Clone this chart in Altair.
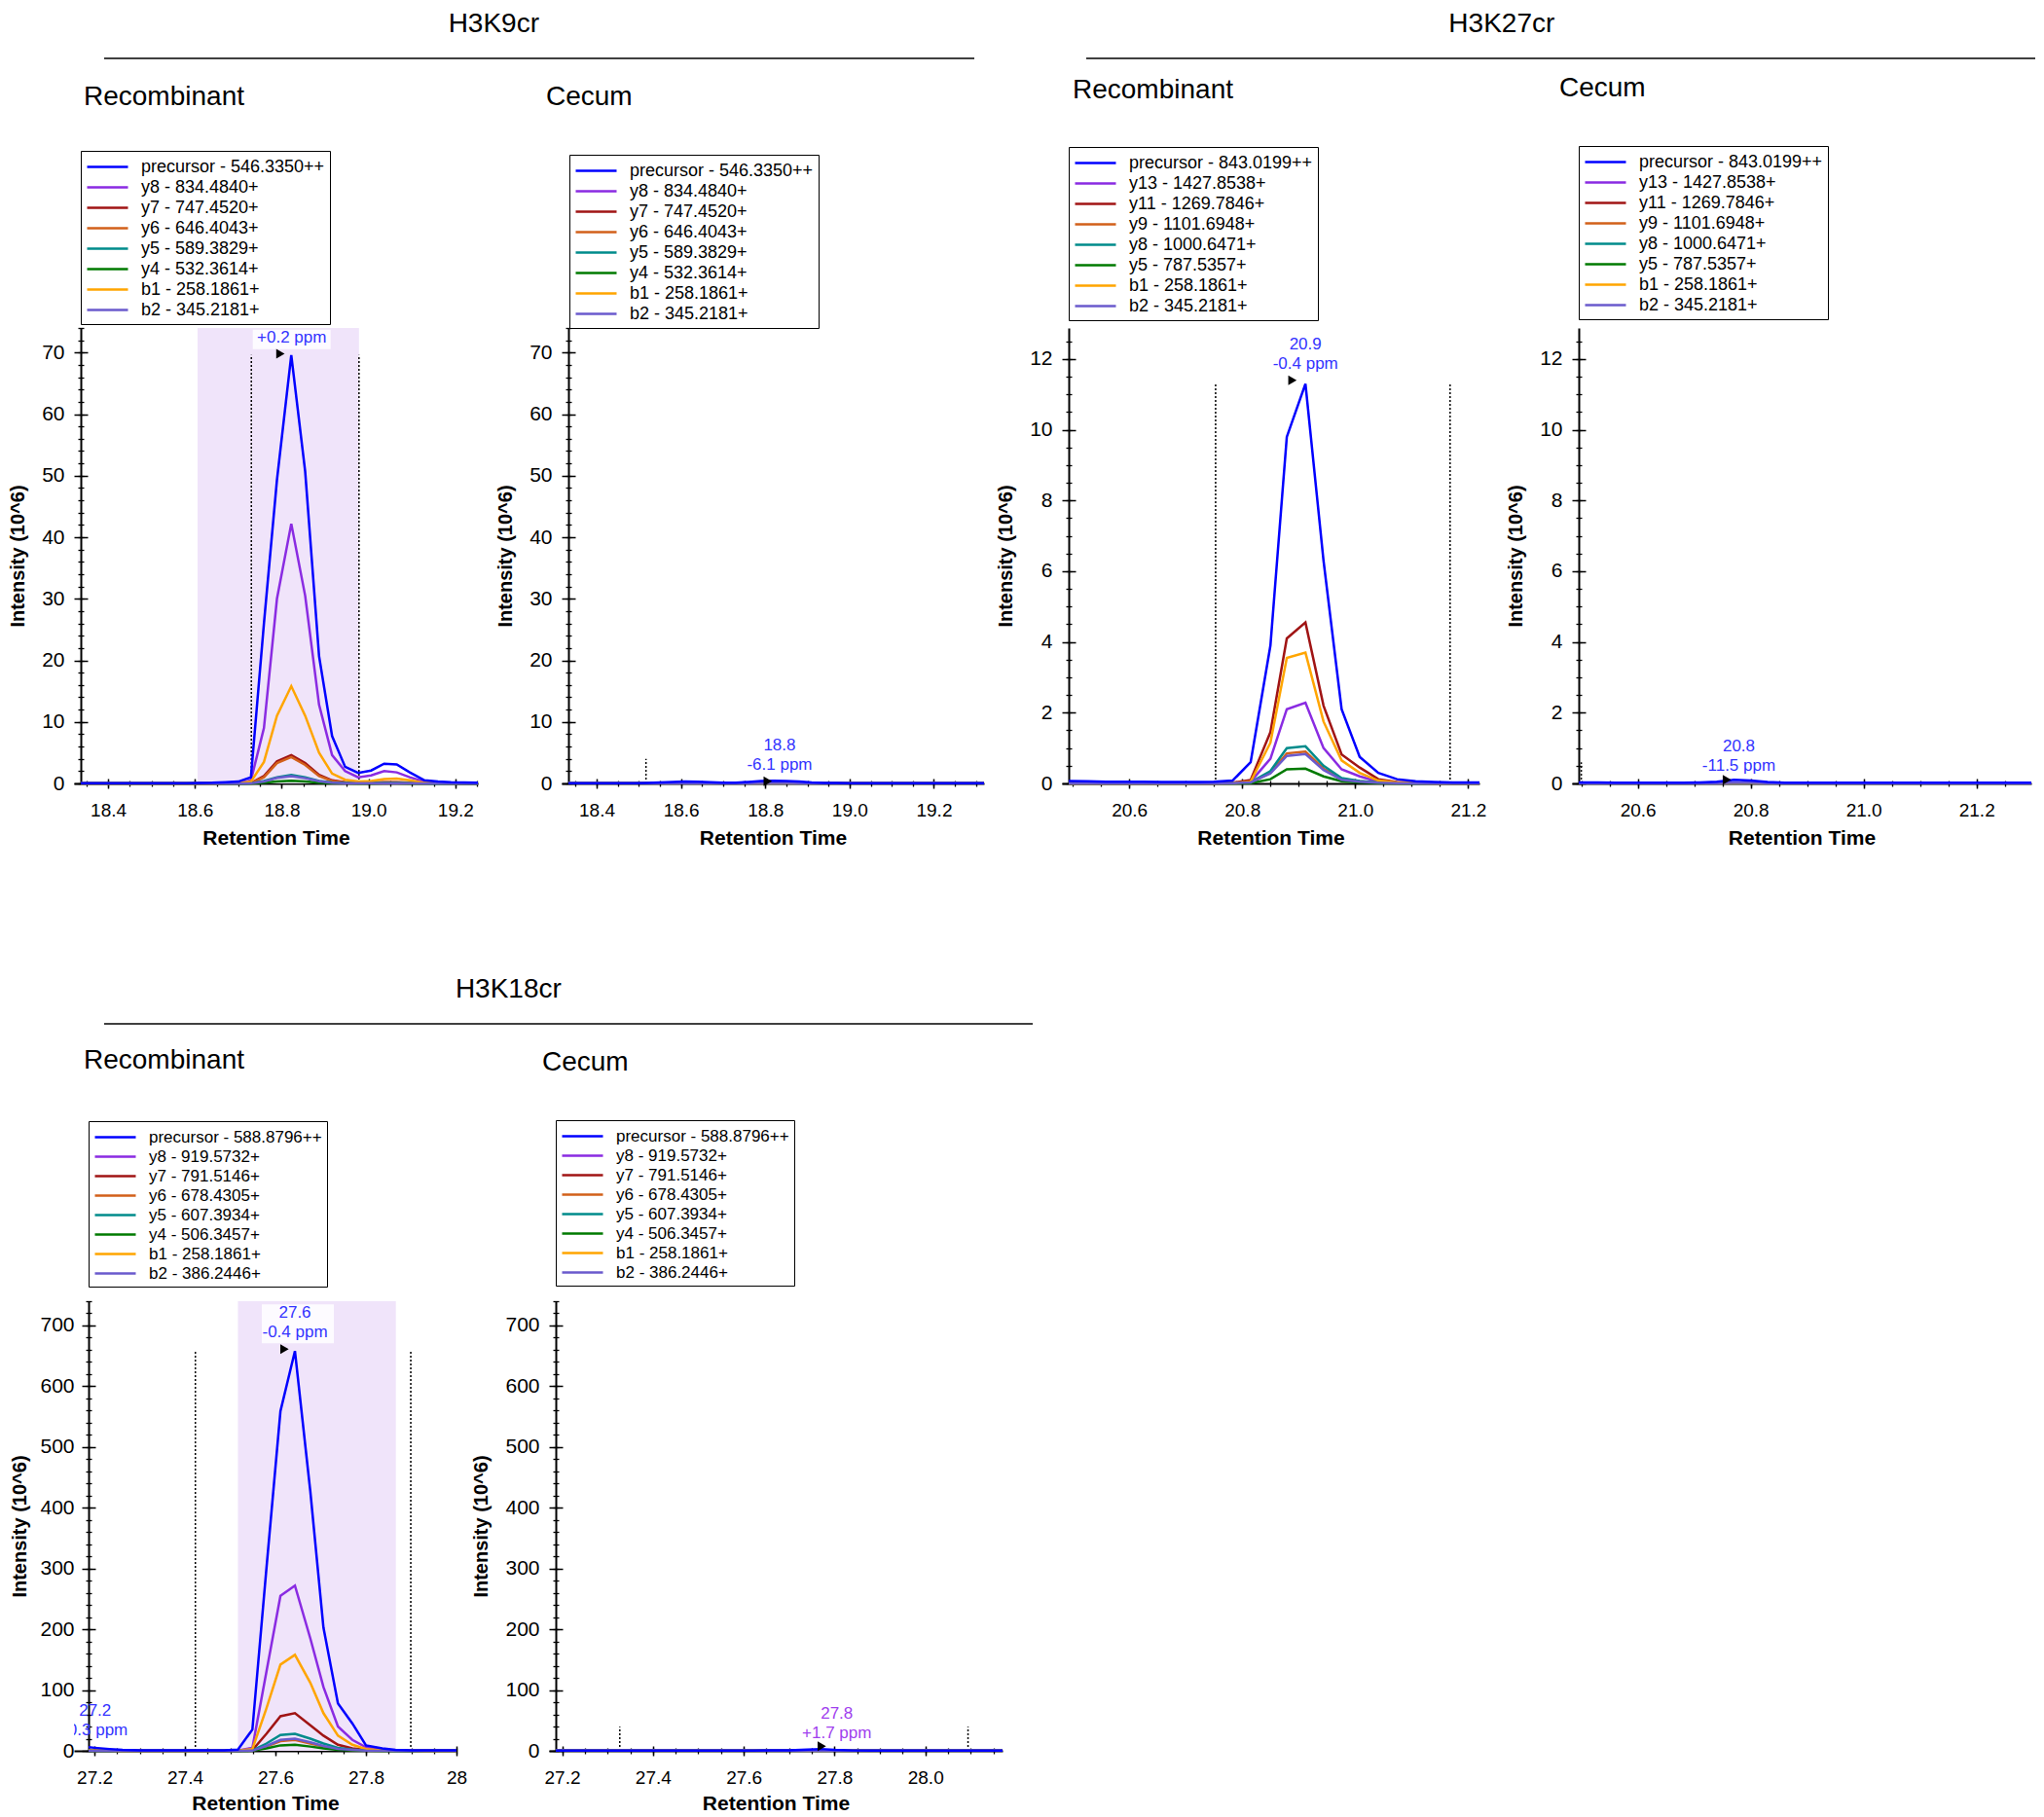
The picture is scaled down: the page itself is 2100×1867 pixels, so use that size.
import altair as alt
import pandas as pd

FONT = "Liberation Sans"
BLACK = "#000000"
ION_COLORS = ["#0000FF", "#8A2BE2", "#A01414", "#D2601A", "#008B8B", "#007A00", "#FFA500", "#6A5ACD"]
SHADE = "#F0E4FA"
LABEL_BLUE = "#3333FF"
LABEL_PURPLE = "#A040EE"

# ---------------- legends (ion names) ----------------
k9_ions = ["precursor - 546.3350++", "y8 - 834.4840+", "y7 - 747.4520+", "y6 - 646.4043+",
           "y5 - 589.3829+", "y4 - 532.3614+", "b1 - 258.1861+", "b2 - 345.2181+"]
k27_ions = ["precursor - 843.0199++", "y13 - 1427.8538+", "y11 - 1269.7846+", "y9 - 1101.6948+",
            "y8 - 1000.6471+", "y5 - 787.5357+", "b1 - 258.1861+", "b2 - 345.2181+"]
k18_ions = ["precursor - 588.8796++", "y8 - 919.5732+", "y7 - 791.5146+", "y6 - 678.4305+",
            "y5 - 607.3934+", "y4 - 506.3457+", "b1 - 258.1861+", "b2 - 386.2446+"]

# ---------------- H3K9cr Recombinant ----------------
k9_rec_rt = [18.337, 18.37, 18.40, 18.43, 18.46, 18.49, 18.52, 18.55, 18.58, 18.61, 18.64, 18.67, 18.70,
             18.729, 18.759, 18.789, 18.822, 18.854, 18.886, 18.916, 18.946, 18.976, 19.006, 19.036,
             19.065, 19.095, 19.129, 19.16, 19.19, 19.22, 19.252]
k9_rec_prec = [0.05, 0.05, 0.05, 0.05, 0.05, 0.05, 0.05, 0.05, 0.05, 0.06, 0.1, 0.2, 0.3,
               1.0, 26.0, 49.3, 69.6, 50.7, 20.7, 7.7, 2.7, 1.7, 2.1, 3.2, 3.1, 1.8, 0.5, 0.3, 0.2, 0.15, 0.1]
k9_rec_y8 = [0, 0, 0, 0, 0, 0, 0, 0, 0, 0, 0, 0.02, 0.05,
             0.5, 9.0, 30.0, 42.2, 30.5, 12.8, 4.6, 2.0, 1.0, 1.3, 2.0, 1.8, 1.0, 0.3, 0.1, 0.05, 0.03, 0.02]
k9_rec_y7 = [0, 0, 0, 0, 0, 0, 0, 0, 0, 0, 0, 0, 0.01,
             0.05, 1.2, 3.6, 4.6, 3.3, 1.4, 0.5, 0.2, 0.1, 0.15, 0.2, 0.2, 0.1, 0.05, 0.02, 0.01, 0.01, 0.01]
k9_rec_y6 = [0, 0, 0, 0, 0, 0, 0, 0, 0, 0, 0, 0, 0.01,
             0.05, 1.0, 3.3, 4.3, 3.0, 1.2, 0.4, 0.15, 0.1, 0.1, 0.15, 0.15, 0.1, 0.05, 0.02, 0.01, 0.01, 0.01]
k9_rec_y5 = [0, 0, 0, 0, 0, 0, 0, 0, 0, 0, 0, 0, 0,
             0.02, 0.4, 1.0, 1.4, 1.0, 0.4, 0.15, 0.06, 0.04, 0.05, 0.06, 0.06, 0.04, 0.02, 0.01, 0.01, 0.01, 0.01]
k9_rec_y4 = [0, 0, 0, 0, 0, 0, 0, 0, 0, 0, 0, 0, 0,
             0.01, 0.1, 0.3, 0.45, 0.3, 0.1, 0.04, 0.02, 0.01, 0.01, 0.02, 0.02, 0.01, 0.01, 0, 0, 0, 0]
k9_rec_b1 = [0, 0, 0, 0, 0, 0, 0, 0, 0, 0, 0, 0.02, 0.04,
             0.3, 3.5, 11.0, 15.8, 11.0, 5.0, 1.6, 0.6, 0.3, 0.4, 0.7, 0.8, 0.5, 0.1, 0.05, 0.03, 0.02, 0.02]
k9_rec_b2 = [0, 0, 0, 0, 0, 0, 0, 0, 0, 0, 0, 0, 0,
             0.02, 0.3, 0.9, 1.2, 0.85, 0.35, 0.1, 0.05, 0.03, 0.04, 0.05, 0.05, 0.03, 0.01, 0.01, 0, 0, 0]

# ---------------- H3K9cr Cecum ----------------
k9_cec_rt = [18.333, 18.37, 18.40, 18.43, 18.46, 18.49, 18.52, 18.55, 18.58, 18.61, 18.64, 18.67, 18.70,
             18.73, 18.76, 18.79, 18.82, 18.85, 18.88, 18.91, 18.94, 18.97, 19.00, 19.03, 19.06, 19.09,
             19.12, 19.15, 19.18, 19.21, 19.24, 19.27, 19.30, 19.319]
k9_cec_prec = [0.05, 0.05, 0.05, 0.05, 0.05, 0.05, 0.08, 0.15, 0.25, 0.3, 0.28, 0.2, 0.1, 0.12, 0.25,
               0.4, 0.45, 0.4, 0.3, 0.15, 0.08, 0.06, 0.05, 0.05, 0.05, 0.05, 0.05, 0.05, 0.05, 0.05,
               0.05, 0.05, 0.05, 0.05]
k9_cec_frag = [0.02, 0.02, 0.02, 0.02, 0.02, 0.02, 0.03, 0.04, 0.05, 0.05, 0.05, 0.04, 0.03, 0.03, 0.05,
               0.06, 0.07, 0.06, 0.05, 0.04, 0.03, 0.02, 0.02, 0.02, 0.02, 0.02, 0.02, 0.02, 0.02, 0.02,
               0.02, 0.02, 0.02, 0.02]

# ---------------- H3K27cr Recombinant ----------------
k27_rec_rt = [20.493, 20.526, 20.559, 20.592, 20.625, 20.658, 20.691, 20.724, 20.75, 20.783, 20.815,
              20.850, 20.879, 20.912, 20.944, 20.976, 21.008, 21.041, 21.074, 21.107, 21.14, 21.173,
              21.206, 21.22]
k27_rec_prec = [0.07, 0.06, 0.05, 0.05, 0.05, 0.04, 0.04, 0.04, 0.05, 0.08, 0.6, 3.9, 9.8, 11.3, 6.3,
                2.1, 0.75, 0.3, 0.12, 0.06, 0.04, 0.03, 0.03, 0.03]
k27_rec_y13 = [0, 0, 0, 0, 0, 0, 0, 0, 0, 0.01, 0.05, 0.7, 2.1, 2.28, 1.0, 0.4, 0.2, 0.05, 0.02, 0.01,
               0, 0, 0, 0]
k27_rec_y11 = [0, 0, 0, 0, 0, 0, 0, 0, 0, 0.02, 0.1, 1.45, 4.1, 4.55, 2.2, 0.82, 0.45, 0.12, 0.04, 0.02,
               0, 0, 0, 0]
k27_rec_y9 = [0, 0, 0, 0, 0, 0, 0, 0, 0, 0.01, 0.03, 0.3, 0.85, 0.9, 0.42, 0.13, 0.06, 0.02, 0.01, 0,
              0, 0, 0, 0]
k27_rec_y8 = [0, 0, 0, 0, 0, 0, 0, 0, 0, 0.01, 0.03, 0.35, 1.0, 1.05, 0.5, 0.15, 0.07, 0.03, 0.01, 0,
              0, 0, 0, 0]
k27_rec_y5 = [0, 0, 0, 0, 0, 0, 0, 0, 0, 0, 0.01, 0.12, 0.4, 0.42, 0.2, 0.06, 0.03, 0.01, 0, 0,
              0, 0, 0, 0]
k27_rec_b1 = [0, 0, 0, 0, 0, 0, 0, 0, 0, 0.01, 0.05, 1.15, 3.55, 3.7, 1.75, 0.65, 0.3, 0.08, 0.03, 0.01,
              0, 0, 0, 0]
k27_rec_b2 = [0, 0, 0, 0, 0, 0, 0, 0, 0, 0.01, 0.03, 0.28, 0.78, 0.83, 0.38, 0.1, 0.05, 0.02, 0.01, 0,
              0, 0, 0, 0]

# ---------------- H3K27cr Cecum ----------------
k27_cec_rt = [20.4955, 20.53, 20.56, 20.59, 20.62, 20.65, 20.68, 20.71, 20.74, 20.77, 20.80, 20.83,
              20.86, 20.89, 20.92, 20.95, 20.98, 21.01, 21.04, 21.07, 21.10, 21.13, 21.16, 21.19,
              21.22, 21.25, 21.297]
k27_cec_prec = [0.03, 0.03, 0.02, 0.02, 0.02, 0.02, 0.02, 0.03, 0.05, 0.1, 0.08, 0.04, 0.02, 0.02,
                0.02, 0.02, 0.02, 0.02, 0.02, 0.02, 0.02, 0.02, 0.02, 0.02, 0.02, 0.02, 0.02]
k27_cec_frag = [0.01, 0.01, 0.01, 0.01, 0.01, 0.01, 0.01, 0.01, 0.01, 0.02, 0.02, 0.01, 0.01, 0.01,
                0.01, 0.01, 0.01, 0.01, 0.01, 0.01, 0.01, 0.01, 0.01, 0.01, 0.01, 0.01, 0.01]

# ---------------- H3K18cr Recombinant ----------------
k18_rec_rt = [27.187, 27.2, 27.233, 27.262, 27.3, 27.33, 27.36, 27.39, 27.42, 27.45, 27.487, 27.517,
              27.549, 27.58, 27.611, 27.643, 27.677, 27.706, 27.738, 27.77, 27.8, 27.836, 27.865,
              27.9, 27.93, 27.96, 28.0]
k18_rec_prec = [6, 5, 3, 1.5, 1, 1, 1, 1, 1, 1, 1, 2, 35, 300, 559, 658, 427, 203, 78, 45, 9, 4, 1.5,
                1, 1, 1, 1]
k18_rec_y8 = [0.5, 0.5, 0.4, 0.3, 0.2, 0.2, 0.2, 0.2, 0.2, 0.2, 0.2, 0.5, 5, 130, 255, 272, 185, 105,
              40, 18, 6, 2, 1, 0.5, 0.3, 0.3, 0.3]
k18_rec_y7 = [0.2, 0.2, 0.2, 0.2, 0.2, 0.2, 0.2, 0.2, 0.2, 0.2, 0.2, 0.2, 1, 28, 57, 62, 42, 25, 10, 4,
              1.5, 0.5, 0.3, 0.2, 0.2, 0.2, 0.2]
k18_rec_y6 = [0.1, 0.1, 0.1, 0.1, 0.1, 0.1, 0.1, 0.1, 0.1, 0.1, 0.1, 0.2, 0.3, 7, 16, 18, 12, 7, 3, 1,
              0.5, 0.2, 0.1, 0.1, 0.1, 0.1, 0.1]
k18_rec_y5 = [0.1, 0.1, 0.1, 0.1, 0.1, 0.1, 0.1, 0.1, 0.1, 0.1, 0.1, 0.2, 0.5, 12, 26, 28, 20, 12, 5, 2,
              1, 0.3, 0.2, 0.1, 0.1, 0.1, 0.1]
k18_rec_y4 = [0.1, 0.1, 0.1, 0.1, 0.1, 0.1, 0.1, 0.1, 0.1, 0.1, 0.1, 0.1, 0.2, 4, 9, 10, 7, 4, 1.5, 0.6,
              0.2, 0.1, 0.1, 0.1, 0.1, 0.1, 0.1]
k18_rec_b1 = [0.3, 0.3, 0.3, 0.2, 0.2, 0.2, 0.2, 0.2, 0.2, 0.2, 0.2, 0.3, 3, 70, 142, 158, 112, 62, 25,
              10, 3, 1, 0.5, 0.3, 0.2, 0.2, 0.2]
k18_rec_b2 = [0.1, 0.1, 0.1, 0.1, 0.1, 0.1, 0.1, 0.1, 0.1, 0.1, 0.1, 0.1, 0.3, 8, 18, 20, 14, 8, 3, 1.5,
              0.5, 0.2, 0.1, 0.1, 0.1, 0.1, 0.1]

# ---------------- H3K18cr Cecum ----------------
k18_cec_rt = [27.186, 27.22, 27.26, 27.30, 27.34, 27.38, 27.42, 27.46, 27.50, 27.54, 27.58, 27.62,
              27.66, 27.70, 27.74, 27.77, 27.80, 27.84, 27.88, 27.92, 27.96, 28.00, 28.04, 28.08,
              28.12, 28.17]
k18_cec_prec = [0.6, 0.5, 0.5, 0.5, 0.5, 0.5, 0.5, 0.5, 0.5, 0.5, 0.5, 0.6, 0.8, 1.0, 2.0, 3.0, 1.5,
                0.6, 0.5, 0.5, 0.5, 0.5, 0.5, 0.5, 0.5, 0.5]
k18_cec_frag = [0.3, 0.3, 0.3, 0.3, 0.3, 0.3, 0.3, 0.3, 0.3, 0.3, 0.3, 0.3, 0.3, 0.4, 0.5, 0.6, 0.4,
                0.3, 0.3, 0.3, 0.3, 0.3, 0.3, 0.3, 0.3, 0.3]


def ticks(lo, hi, step):
    n = int(round((hi - lo) / step))
    return [round(lo + i * step, 4) for i in range(n + 1)]


def long_df(rt, series, ions):
    rows = []
    order = list(range(1, len(ions))) + [0]   # precursor drawn last (on top)
    for k in order:
        for t, v in zip(rt, series[k]):
            rows.append({"rt": t, "val": v, "ion": ions[k]})
    return pd.DataFrame(rows)


def panel(p):
    # the y axis sits `yoff` px inside the plot area, so the x axis line runs a little past it
    yoff = p["yoff"]
    a0, a1 = p["xdom"]
    per_px = (a1 - a0) / p["w"]
    xs = alt.Scale(domain=[a0 - yoff * per_px, a1], nice=False, zero=False)
    ys = alt.Scale(domain=p["ydom"], nice=False, zero=False)

    def X(f, axis=None):
        return alt.X(f, type="quantitative", scale=xs, axis=axis)

    def Y(f, axis=None):
        return alt.Y(f, type="quantitative", scale=ys, axis=axis)

    ldf = long_df(p["rt"], p["series"], p["ions"])
    layers = []

    if p.get("shade"):
        sd = pd.DataFrame({"x0": [p["shade"][0]], "x1": [p["shade"][1]],
                           "y0": [p["ydom"][0]], "y1": [p["ydom"][1]]})
        layers.append(alt.Chart(sd).mark_rect(color=SHADE).encode(
            x=X("x0"), x2="x1", y=Y("y0"), y2="y1"))

    if p.get("box"):
        bx, by, o = p["box"]
        bd = pd.DataFrame({"bx": [bx], "by": [by]})
        layers.append(alt.Chart(bd).mark_rect(
            color="white", opacity=0.85, xOffset=o[0], x2Offset=o[1], yOffset=o[2], y2Offset=o[3]
        ).encode(x=X("bx"), x2="bx", y=Y("by"), y2="by"))

    rd = pd.DataFrame({"rx": p["rules"], "ry0": [0.0] * len(p["rules"]),
                       "ry1": [p["rule_top"]] * len(p["rules"])})
    layers.append(alt.Chart(rd).mark_rule(color=BLACK, strokeWidth=1.5, strokeDash=[2, 2]).encode(
        x=X("rx"), y=Y("ry0"), y2="ry1"))

    main_x = alt.Axis(orient="bottom", values=p["xmajor"], format=".1f", title="Retention Time",
                      titleFont=FONT, titleFontSize=21, titleFontWeight="bold", titleColor=BLACK,
                      titlePadding=p.get("xtp", 8), labelFont=FONT, labelFontSize=19,
                      labelColor=BLACK, labelPadding=13, labelFlush=False, labelOverlap=False,
                      tickSize=5, tickWidth=1.5, tickColor=BLACK, domainColor=BLACK,
                      domainWidth=2, grid=False,
                      **({"labelExpr": p["xlabelexpr"]} if p.get("xlabelexpr") else {}))
    main_y = alt.Axis(orient="left", values=p["ymajor"], title="Intensity (10^6)", offset=-yoff,
                      titleFont=FONT, titleFontSize=20, titleFontWeight="bold", titleColor=BLACK,
                      titlePadding=p.get("ytp", 14), labelFont=FONT, labelFontSize=21,
                      labelColor=BLACK, labelPadding=p.get("ylp", 10), labelOverlap=False,
                      tickSize=7, tickWidth=1.5, tickColor=BLACK, domainColor=BLACK,
                      domainWidth=2, grid=False)
    legend = alt.Legend(orient="none", legendX=p["legx"] + yoff, legendY=p["legy"], title=None,
                        direction="vertical", strokeColor=BLACK, fillColor="white", padding=5,
                        cornerRadius=0, labelFont=FONT, labelFontSize=p.get("legfs", 18),
                        labelColor=BLACK, labelLimit=400, symbolType="M-1,0H3.2",
                        symbolStrokeWidth=2.5, symbolSize=400, rowPadding=0, labelOffset=34)
    layers.append(alt.Chart(ldf).mark_line(strokeWidth=2.5).encode(
        x=X("rt", main_x), y=Y("val", main_y),
        color=alt.Color("ion:N", scale=alt.Scale(domain=p["ions"], range=ION_COLORS), legend=legend)))

    ld = pd.DataFrame({"lx": [p["label"][0]], "ly": [p["label"][1]], "lt": [p["label"][2]]})
    layers.append(alt.Chart(ld).mark_text(
        font=FONT, fontSize=17, lineHeight=20, lineBreak="\n", baseline="bottom", align="center",
        color=p.get("label_color", LABEL_BLUE), dy=p["label_dy"]).encode(
        x=X("lx"), y=Y("ly"), text="lt:N"))

    if p.get("clip_label"):
        cd = pd.DataFrame({"lx": [p["clip_label"][0]], "ly": [p["clip_label"][1]],
                           "lt": [p["clip_label"][2]]})
        layers.append(alt.Chart(cd).mark_text(
            font=FONT, fontSize=17, lineHeight=20, lineBreak="\n", baseline="bottom",
            align="center", color=LABEL_BLUE, dy=-29, clip=True).encode(
            x=X("lx"), y=Y("ly"), text="lt:N"))

    md = pd.DataFrame({"mx": [p["marker"][0]], "my": [p["marker"][1]]})
    layers.append(alt.Chart(md).mark_point(shape="triangle-right", filled=True, color=BLACK,
                                           size=100, opacity=1).encode(x=X("mx"), y=Y("my")))

    st = pd.DataFrame({"t": [p["sub"]]})
    layers.append(alt.Chart(st).mark_text(align="left", baseline="middle", font=FONT, fontSize=28,
                                          color=BLACK).encode(
        x=alt.value(p["sub_x"] + yoff), y=alt.value(p["sub_y"]), text="t:N"))
    if p.get("uline"):
        ux1, ux2, uy = p["uline"]
        layers.append(alt.Chart(st).mark_rule(color=BLACK, strokeWidth=1.5).encode(
            x=alt.value(ux1 + yoff), x2=alt.value(ux2 + yoff), y=alt.value(uy)))

    # inner halves of the major ticks, and minor ticks crossing the axis lines
    in_x = alt.Axis(orient="bottom", values=p["xmajor"], offset=-5, tickSize=5, tickWidth=1.5,
                    tickColor=BLACK, labels=False, domain=False, title=None, grid=False)
    in_y = alt.Axis(orient="left", values=p["ymajor"], offset=-(yoff + 7), tickSize=7,
                    tickWidth=1.5, tickColor=BLACK, labels=False, domain=False, title=None,
                    grid=False)
    mi_x = alt.Axis(orient="bottom", values=p["xminor"], offset=-3, tickSize=6, tickWidth=1.3,
                    tickColor=BLACK, labels=False, domain=False, title=None, grid=False)
    mi_y = alt.Axis(orient="left", values=p["yminor"], offset=-(yoff + 3), tickSize=6,
                    tickWidth=1.3, tickColor=BLACK, labels=False, domain=False, title=None,
                    grid=False)
    layers.append(alt.Chart(ldf).mark_point(opacity=0, size=1).encode(
        x=X("rt", in_x), y=Y("val", in_y)))
    layers.append(alt.Chart(ldf).mark_point(opacity=0, size=1).encode(
        x=X("rt", mi_x), y=Y("val", mi_y)))

    return alt.layer(*layers).resolve_axis(x="independent", y="independent").properties(
        width=p["w"] + yoff, height=p["h"])


P1 = dict(rt=k9_rec_rt,
          series=[k9_rec_prec, k9_rec_y8, k9_rec_y7, k9_rec_y6, k9_rec_y5, k9_rec_y4, k9_rec_b1, k9_rec_b2],
          ions=k9_ions, xdom=[18.337, 19.252], ydom=[0, 74.0], w=408, h=468, yoff=7,
          xmajor=[18.4, 18.6, 18.8, 19.0, 19.2], xminor=ticks(18.35, 19.25, 0.05),
          ymajor=ticks(0, 70, 10), yminor=ticks(0, 74, 2), legx=0, legy=-182,
          sub="Recombinant", sub_x=3, sub_y=-237, uline=(24, 918, -277),
          shade=(18.606, 18.978), rules=[18.73, 18.978], rule_top=69.6,
          label=(18.823, 69.6, "+0.2 ppm"), label_dy=-9, box=(18.823, 69.6, (-40, 40, -26, -6)),
          marker=(18.797, 69.8))
P2 = dict(rt=k9_cec_rt,
          series=[k9_cec_prec] + [k9_cec_frag] * 7,
          ions=k9_ions, xdom=[18.333, 19.319], ydom=[0, 74.0], w=427, h=468, yoff=7,
          xmajor=[18.4, 18.6, 18.8, 19.0, 19.2], xminor=ticks(18.35, 19.30, 0.05),
          ymajor=ticks(0, 70, 10), yminor=ticks(0, 74, 2), legx=1, legy=-178,
          sub="Cecum", sub_x=-23, sub_y=-237,
          rules=[18.517], rule_top=4.0,
          label=(18.834, 0.4, "18.8\n-6.1 ppm"), label_dy=-27, marker=(18.806, 0.35))
P3 = dict(rt=k27_rec_rt,
          series=[k27_rec_prec, k27_rec_y13, k27_rec_y11, k27_rec_y9, k27_rec_y8, k27_rec_y5,
                  k27_rec_b1, k27_rec_b2],
          ions=k27_ions, xdom=[20.493, 21.22], ydom=[0, 12.88], w=422, h=468, yoff=7,
          xmajor=[20.6, 20.8, 21.0, 21.2], xminor=ticks(20.5, 21.2, 0.05),
          ymajor=ticks(0, 12, 2), yminor=ticks(0, 12.5, 0.5), legx=0, legy=-186,
          sub="Recombinant", sub_x=4, sub_y=-244, uline=(18, 993, -277),
          rules=[20.753, 21.168], rule_top=11.3,
          label=(20.912, 11.3, "20.9\n-0.4 ppm"), label_dy=-31, marker=(20.889, 11.4))
P4 = dict(rt=k27_cec_rt,
          series=[k27_cec_prec] + [k27_cec_frag] * 7,
          ions=k27_ions, xdom=[20.4955, 21.297], ydom=[0, 12.88], w=465, h=468, yoff=7,
          xmajor=[20.6, 20.8, 21.0, 21.2], xminor=ticks(20.5, 21.25, 0.05),
          ymajor=ticks(0, 12, 2), yminor=ticks(0, 12.5, 0.5), legx=0, legy=-187,
          sub="Cecum", sub_x=-20, sub_y=-246,
          rules=[20.5], rule_top=0.6,
          label=(20.779, 0.1, "20.8\n-11.5 ppm"), label_dy=-25, marker=(20.758, 0.1))
P5 = dict(rt=k18_rec_rt,
          series=[k18_rec_prec, k18_rec_y8, k18_rec_y7, k18_rec_y6, k18_rec_y5, k18_rec_y4,
                  k18_rec_b1, k18_rec_b2],
          ions=k18_ions, xdom=[27.187, 28.0], ydom=[0, 740], w=378, h=462, yoff=15, ytp=10, ylp=8,
          xtp=6, legfs=17,
          xmajor=[27.2, 27.4, 27.6, 27.8, 28.0], xminor=ticks(27.2, 28.0, 0.05),
          ymajor=ticks(0, 700, 100), yminor=ticks(0, 740, 20), legx=0, legy=-185,
          sub="Recombinant", sub_x=-5, sub_y=-247, uline=(16, 970, -285),
          shade=(27.517, 27.866), rules=[27.423, 27.899], rule_top=657,
          label=(27.643, 658, "27.6\n-0.4 ppm"), label_dy=-30,
          box=(27.643, 658, (-34, 40, -48, -8)), marker=(27.62, 661),
          clip_label=(27.2015, 5, "27.2\n-0.3 ppm"),
          xlabelexpr="datum.value >= 27.99 ? '28' : datum.label")
P6 = dict(rt=k18_cec_rt,
          series=[k18_cec_prec] + [k18_cec_frag] * 7,
          ions=k18_ions, xdom=[27.186, 28.17], ydom=[0, 740], w=459, h=462, yoff=7, xtp=6,
          legfs=17,
          xmajor=[27.2, 27.4, 27.6, 27.8, 28.0], xminor=ticks(27.2, 28.15, 0.05),
          ymajor=ticks(0, 700, 100), yminor=ticks(0, 740, 20), legx=0, legy=-186,
          sub="Cecum", sub_x=-14, sub_y=-245,
          rules=[27.327, 28.094], rule_top=39.6,
          label=(27.805, 0, "27.8\n+1.7 ppm"), label_color=LABEL_PURPLE, label_dy=-29,
          marker=(27.772, 7.5))


def group(a, b, spacing, title, dx):
    return alt.hconcat(
        a, b, spacing=spacing, bounds="flush",
        title=alt.TitleParams(title, font=FONT, fontSize=28, fontWeight="normal", color=BLACK,
                              anchor="middle", offset=20, dx=dx)
    ).resolve_scale(color="independent").resolve_legend(color="independent")


g9 = group(panel(P1), panel(P2), 86, "H3K9cr", -5)
g27 = group(panel(P3), panel(P4), 95, "H3K27cr", -15)
g18 = group(panel(P5), panel(P6), 95, "H3K18cr", -14)

top = alt.hconcat(g9, g27, spacing=7).resolve_scale(color="independent").resolve_legend(
    color="independent")

chart = alt.concat(top, g18, columns=1, spacing=132, align="none").resolve_scale(
    color="independent").resolve_legend(color="independent").properties(
    padding={"left": 0, "top": 3, "right": 0, "bottom": 0}
).configure(background="white", font=FONT).configure_view(stroke=None)

chart.save("out.html", embed_options={"renderer": "svg", "actions": False})
